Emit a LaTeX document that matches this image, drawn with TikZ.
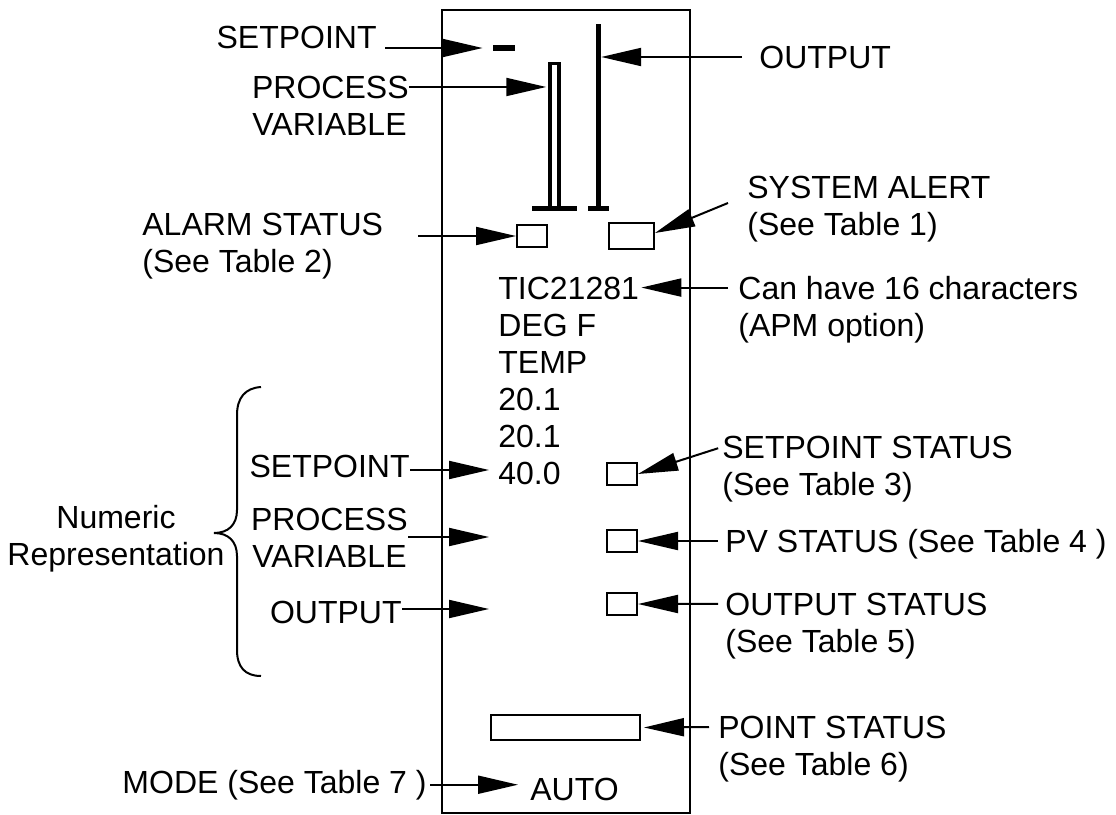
\documentclass[tikz,border=0pt]{standalone}
\usepackage{fontspec}
\setsansfont{Liberation Sans}
\usetikzlibrary{arrows.meta,calc}

\begin{document}
\begin{tikzpicture}[x=0.5pt,y=-0.5pt,font=\sffamily]
  \tikzset{every node/.style={inner sep=0pt},font={\fontsize{16pt}{19.2pt}\sffamily}}
  \tikzstyle{arr}=[line width=1pt,-{Triangle[length=20pt,width=9pt]}]
  \tikzstyle{led}=[draw,line width=1pt]
  \tikzstyle{bar}=[line width=2.5pt]

  \def\ls{37}

  \useasboundingbox (0,0) rectangle (1116,815);

  % display frame
  \draw[line width=1.25pt] (442,10) rectangle (690,813);

  % bar graph
  \node[fill,minimum width=11pt,minimum height=3pt] (spmark) at (504,48) {};
  \node[draw,line width=1.75pt,minimum width=4.5pt,minimum height=72.5pt] (pvbar) at (554.5,136) {};
  \node[fill,minimum width=2.5pt,minimum height=92.25pt] (opbar) at (598.3,116.25) {};
  \draw[bar] (532,208.5) -- (577,208.5);
  \draw[bar] (588,208.5) -- (609,208.5);

  % status boxes
  \node[led,minimum width=15pt,minimum height=11pt] (alarmsq) at (532,236) {};
  \node[led,minimum width=22.5pt,minimum height=13pt] (alertsq) at (631.5,236) {};
  \node[led,minimum width=15pt,minimum height=11pt] (spsq) at (622,474) {};
  \node[led,minimum width=15pt,minimum height=11pt] (pvsq) at (622,541) {};
  \node[led,minimum width=15pt,minimum height=11pt] (opsq) at (622,604) {};
  \node[led,minimum width=74.5pt,minimum height=12.5pt] (ptsq) at (565.5,727.5) {};

  % display texts
  \node[anchor=base west] (tag) at (498,299) {TIC21281};
  \node[anchor=base west] (unit) at ($(tag.base west)+(0,\ls)$) {DEG F};
  \node[anchor=base west] (desc) at ($(unit.base west)+(0,\ls)$) {TEMP};
  \node[anchor=base west] (val1) at ($(desc.base west)+(0,\ls)$) {20.1};
  \node[anchor=base west] (val2) at ($(val1.base west)+(0,\ls)$) {20.1};
  \node[anchor=base west] (spval) at ($(val2.base west)+(0,\ls)$) {40.0};
  \node[anchor=base west] (auto) at (530,800) {AUTO};
  \coordinate (pvtip) at (489,537);
  \coordinate (optip) at (489,609);

  % labels left
  \node[anchor=base east] (spl) at (377,48) {SETPOINT};
  \node[anchor=base east] (pvl) at (409,98) {PROCESS};
  \node[anchor=base east] (pvl2) at ($(pvl.base east)+(-2,\ls)$) {VARIABLE};
  \node[anchor=base west] (alarml) at (142,235) {ALARM STATUS};
  \node[anchor=base west] (alarml2) at ($(alarml.base west)+(0,\ls)$) {(See Table 2)};
  \node[anchor=base] (numl) at (116,528) {Numeric};
  \node[anchor=base] (numl2) at ($(numl.base)+(0,\ls)$) {Representation};
  \node[anchor=base east] (spn) at (410,477) {SETPOINT};
  \node[anchor=base east] (pvn) at (408,530) {PROCESS};
  \node[anchor=base east] (pvn2) at ($(pvn.base east)+(-1,\ls)$) {VARIABLE};
  \node[anchor=base east] (opn) at (402,623) {OUTPUT};
  \node[anchor=base east] (model) at (427,793) {MODE (See Table 7 )};

  % labels right
  \node[anchor=base west] (opl) at (759,68) {OUTPUT};
  \node[anchor=base west] (alertl) at (747,198) {SYSTEM ALERT};
  \node[anchor=base west] (alertl2) at ($(alertl.base west)+(0,\ls)$) {(See Table 1)};
  \node[anchor=base west] (chl) at (738,299) {Can have 16 characters};
  \node[anchor=base west] (chl2) at ($(chl.base west)+(0,\ls)$) {(APM option)};
  \node[anchor=base west] (spstl) at (722,458) {SETPOINT STATUS};
  \node[anchor=base west] (spstl2) at ($(spstl.base west)+(0,\ls)$) {(See Table 3)};
  \node[anchor=base west] (pvstl) at (725,552) {PV STATUS (See Table 4 )};
  \node[anchor=base west] (opstl) at (725,615) {OUTPUT STATUS};
  \node[anchor=base west] (opstl2) at ($(opstl.base west)+(0,\ls)$) {(See Table 5)};
  \node[anchor=base west] (ptl) at (718,738) {POINT STATUS};
  \node[anchor=base west] (ptl2) at ($(ptl.base west)+(0,\ls)$) {(See Table 6)};

  % brace
  \draw[line width=1pt] (261,387) .. controls (245,388) and (237,398) .. (237,415) -- (237,510)
    .. controls (237,525) and (228,533) .. (214,533)
    .. controls (228,533) and (237,541) .. (237,556) -- (237,650)
    .. controls (237,667) and (245,676) .. (261,676);

  % arrows
  \draw[arr,shorten <=4pt,shorten >=5pt] (spl.base east) -- (spl.base east -| spmark.west);
  \draw[arr,shorten >=1pt] (pvl.east) -- (pvl.east -| pvbar.west);
  \draw[arr,shorten <=8.5pt] (opl.west) -- (opl.west -| opbar.east);
  \draw[arr] ($(alertl.base west)+(-19,5)$) -- ([yshift=1.5pt]alertsq.east);
  \draw[arr,shorten <=17.5pt] (alarml.base east |- alarmsq) -- (alarmsq.west);
  \draw[arr,shorten <=5pt,shorten >=1pt] (chl.west) -- (chl.west -| tag.east);
  \draw[arr,shorten >=4.5pt] ([yshift=-2pt]spn.east) -- ([yshift=-2pt]spn.east -| spval.west);
  \draw[arr,shorten <=2pt] (spstl.west) -- (spsq.east);
  \draw[arr] (pvn.base east |- pvtip) -- (pvtip);
  \draw[arr,shorten <=3.5pt] (pvstl.west |- pvsq) -- (pvsq.east);
  \draw[arr] (opn.east |- optip) -- (optip);
  \draw[arr,shorten <=3.5pt] (opstl.west) -- (opsq.east);
  \draw[arr,shorten <=4.5pt,shorten >=1.5pt] (ptl.west) -- (ptsq.east);
  \draw[arr,shorten <=1.5pt,shorten >=6pt] (model.east) -- (model.east -| auto.west);

\end{tikzpicture}
\end{document}
